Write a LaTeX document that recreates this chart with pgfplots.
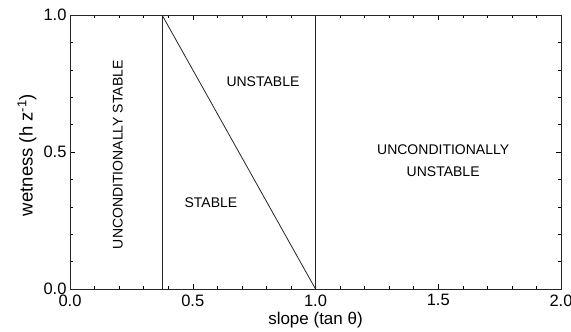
\documentclass[border=0pt]{standalone}
\usepackage{fontspec}
\setmainfont{Liberation Sans}
\usepackage{pgfplots}
\pgfplotsset{compat=1.18}
\begin{document}
\begin{tikzpicture}
\begin{axis}[
  scale only axis,
  width=491pt, height=274pt,
  xmin=0, xmax=2, ymin=0, ymax=1,
  xtick={0,0.5,1,1.5,2},
  ytick={0,0.5,1},
  minor x tick num=4,
  minor y tick num=4,
  xticklabels={0.0,0.5,1.0,1.5,2.0},
  yticklabels={0.0,0.5,1.0},
  tick align=inside,
  major tick length=5pt,
  minor tick length=3pt,
  every tick/.style={black, line width=0.5pt},
  axis line style={line width=0.8pt, black!85},
  /pgf/number format/assume math mode=true,
  tick label style={font=\fontsize{16.5}{18}\selectfont},
  xticklabel style={yshift=-2pt},
  xlabel={slope (tan θ)},
  ylabel={wetness (h z\textsuperscript{-1})},
  xlabel style={font=\fontsize{17}{19}\selectfont, at={(axis description cs:0.5,-0.113)}, anchor=center},
  ylabel style={font=\fontsize{18.5}{20}\selectfont, at={(axis description cs:-0.0876,0.489)}, anchor=center},
  clip=false,
]
\addplot[black!85, line width=0.8pt] coordinates {(0.375,0) (0.375,1)};
\addplot[black!85, line width=0.8pt] coordinates {(0.375,1) (1,0)};
\addplot[black!85, line width=0.8pt] coordinates {(1,0) (1,1)};
\node[rotate=90, font=\fontsize{14}{16}\selectfont] at (axis cs:0.195,0.49) {UNCONDITIONALLY STABLE};
\node[font=\fontsize{14}{16}\selectfont] at (axis cs:0.786,0.755) {UNSTABLE};
\node[font=\fontsize{14}{16}\selectfont] at (axis cs:0.574,0.314) {STABLE};
\node[font=\fontsize{14}{16}\selectfont, align=center] at (axis cs:1.52,0.47) {UNCONDITIONALLY\\[6pt]UNSTABLE};
\end{axis}
\pgfresetboundingbox
\path (current axis.south west) ++(-70pt,-42pt) (current axis.north east) ++(10pt,15pt);
\end{tikzpicture}
\end{document}
